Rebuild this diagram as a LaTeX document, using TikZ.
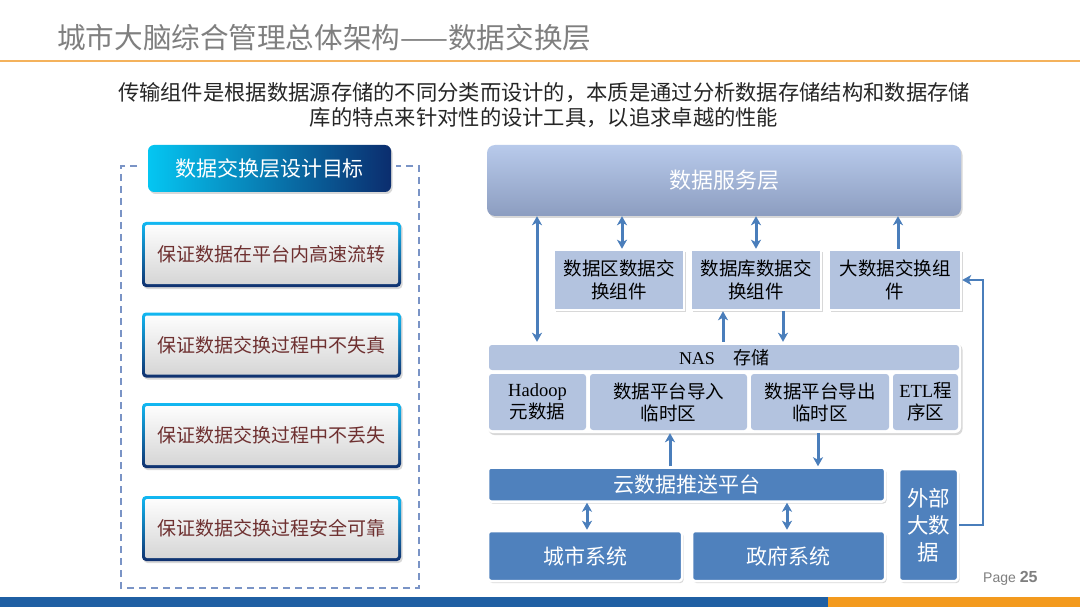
\documentclass[tikz,border=0pt]{standalone}
\usepackage{fontspec}
\setmainfont{Liberation Serif}
\newfontfamily\cjk{Noto Sans CJK SC}
\newfontfamily\pagefont{Liberation Sans}
\usetikzlibrary{arrows.meta,shadows}
\definecolor{titlegray}{HTML}{7F7F7F}
\definecolor{lineorange}{HTML}{F4B25C}
\definecolor{subtext}{HTML}{262626}
\definecolor{framec}{HTML}{7A94C6}
\definecolor{headl}{HTML}{05C6F2}
\definecolor{headr}{HTML}{0B2D6E}
\definecolor{goaltop}{HTML}{12B8F2}
\definecolor{goalbot}{HTML}{10306E}
\definecolor{goaltext}{HTML}{6E3030}
\definecolor{servtop}{HTML}{B8CAEB}
\definecolor{servbot}{HTML}{8C9DC0}
\definecolor{compfill}{HTML}{B3C3DF}
\definecolor{blueb}{HTML}{4F81BD}
\definecolor{arrowc}{HTML}{4A7EBB}
\definecolor{barblue}{HTML}{1F5FA3}
\definecolor{barorange}{HTML}{F39A1E}
\newcommand{\fsz}[2]{\fontsize{#1}{#2}\selectfont}

\begin{document}
\begin{tikzpicture}[x=1pt, y=-1pt,
  every node/.style={inner sep=0pt, font=\cjk},
  shadowed/.style={drop shadow={shadow xshift=1.5pt, shadow yshift=-2pt, opacity=0.25, fill=black!60}},
  goalhead/.style={shadowed, rounded corners=6, left color=headl, right color=headr,
    minimum width=243, minimum height=47, text=white, font=\cjk\fsz{21}{25}},
  goal/.style={shadowed, rounded corners=4, top color=goaltop, bottom color=goalbot,
    minimum width=259, minimum height=65, text=goaltext, font=\cjk\fsz{19}{23},
    path picture={\shade[rounded corners=2, top color=white, bottom color=black!17]
      ([xshift=3pt,yshift=-3pt]path picture bounding box.north west) rectangle
      ([xshift=-3pt,yshift=3pt]path picture bounding box.south east);}},
  service/.style={shadowed, rounded corners=8, top color=servtop, bottom color=servbot,
    minimum width=474, minimum height=71, text=white, font=\cjk\fsz{22}{26}},
  comp/.style={shadowed, fill=compfill, draw=white, line width=2.5, align=center,
    minimum height=60, font=\cjk\fsz{18.5}{23}},
  cell/.style={fill=compfill, rounded corners=3, align=center, font=\cjk\fsz{18.5}{22}},
  bluebox/.style={shadowed, fill=blueb, draw=white, line width=2.5, rounded corners=3,
    text=white, align=center},
  arr/.style={draw=arrowc, line width=3, -{Stealth[length=9pt,width=10pt,inset=2.5pt]}},
  darr/.style={draw=arrowc, line width=3,
    {Stealth[length=9pt,width=10pt,inset=2.5pt]}-{Stealth[length=9pt,width=10pt,inset=2.5pt]}}
]
\useasboundingbox (0,0) rectangle (1080,607);
\fill[white] (0,0) rectangle (1080,607);

% title and intro
\node[anchor=west, text=titlegray, font=\cjk\fsz{28.6}{32}] (title) at (57,38) {城市大脑综合管理总体架构——数据交换层};
\draw[lineorange, line width=2] (0,61) -- (1080,61);
\node[align=center, text=subtext, font=\cjk\fsz{21.3}{25}] (intro) at (544,105)
  {传输组件是根据数据源存储的不同分类而设计的，本质是通过分析数据存储结构和数据存储\\库的特点来针对性的设计工具，以追求卓越的性能};

% left panel
\draw[framec, line width=1.8, dash pattern=on 7pt off 5pt]
  (137,166) -- (121,166) -- (121,588) -- (419,588) -- (419,166) -- (396,166);
\node[goalhead] (head) at (269.5,168.5) {数据交换层设计目标};
\node[goal] (goal1) at (271.5,254.5) {保证数据在平台内高速流转};
\node[goal] (goal2) at (271.5,345) {保证数据交换过程中不失真};
\node[goal] (goal3) at (271.5,435.5) {保证数据交换过程中不丢失};
\node[goal] (goal4) at (271.5,528.5) {保证数据交换过程安全可靠};

% right diagram
\node[service] (serv) at (724,180.5) {数据服务层};
\node[comp, minimum width=130] (compA) at (619,280) {数据区数据交\\换组件};
\node[comp, minimum width=130] (compB) at (756,280) {数据库数据交\\换组件};
\node[comp, minimum width=132] (compC) at (895,280) {大数据交换组\\件};

\node[shadowed, fill=white, rounded corners=6, minimum width=474, minimum height=91] (nas) at (724,387.5) {};
\node[cell, minimum width=470, minimum height=25, font=\rmfamily\fsz{18}{22}] (nashead) at (724,357.5) {NAS\quad{\cjk 存储}};
\node[cell, minimum width=97, minimum height=56] (hadoop) at (537.5,402) {{\rmfamily Hadoop}\\元数据};
\node[cell, minimum width=157, minimum height=56] (import) at (668.5,402) {数据平台导入\\临时区};
\node[cell, minimum width=138, minimum height=56] (export) at (820,402) {数据平台导出\\临时区};
\node[cell, minimum width=65, minimum height=56] (etl) at (925.5,402) {{\rmfamily ETL}程\\序区};

\node[bluebox, minimum width=397, minimum height=34, font=\cjk\fsz{21}{25}] (cloud) at (686.5,484.5) {云数据推送平台};
\node[bluebox, minimum width=194, minimum height=50, font=\cjk\fsz{21}{25}] (city) at (585,556) {城市系统};
\node[bluebox, minimum width=193, minimum height=50, font=\cjk\fsz{21}{25}] (gov) at (788.5,556) {政府系统};
\node[bluebox, minimum width=59, minimum height=112, font=\cjk\fsz{21.5}{27}] (ext) at (928.5,525) {外部\\大数\\据};

% connectors
\draw[darr] (537,0 |- serv.south) -- (537,0 |- nas.north);
\draw[darr] (622,0 |- serv.south) -- (622,0 |- compA.north);
\draw[darr] (756,0 |- serv.south) -- (756,0 |- compB.north);
\draw[arr] (898,0 |- compC.north) -- (898,0 |- serv.south);
\draw[arr] (723,0 |- nas.north) -- (723,0 |- compB.south);
\draw[arr] (783,0 |- compB.south) -- (783,0 |- nas.north);
\draw[arr] (670,0 |- cloud.north) -- (670,0 |- nas.south);
\draw[arr] (818,0 |- nas.south) -- (818,0 |- cloud.north);
\draw[darr] (587,0 |- cloud.south) -- (587,0 |- city.north);
\draw[darr] (787,0 |- cloud.south) -- (787,0 |- gov.north);
\draw[arr, line width=2] (ext.east) -- (983,0 |- ext.east) |- (compC.east);

% footer
\node[anchor=west, text=titlegray, font=\pagefont\fsz{14}{16}] (page) at (983,578) {Page \textbf{\fsz{16}{18}25}};
\fill[barblue] (0,597) rectangle (828,607);
\fill[barorange] (828,597) rectangle (1080,607);
\end{tikzpicture}
\end{document}
